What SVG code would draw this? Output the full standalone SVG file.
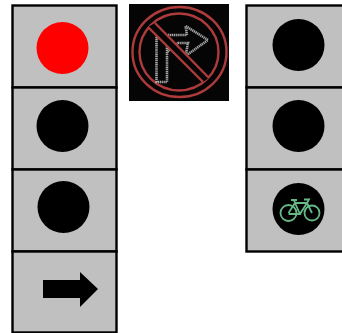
<svg xmlns="http://www.w3.org/2000/svg" width="342" height="333" viewBox="0 0 342 333">
<style>
.h{fill:#c0c0c0;stroke:#000;stroke-width:2.4}
.l{fill:#000}
.red{fill:#f00}
.ring{fill:none;stroke:#ad3b3b;stroke-width:2.4}
.dot{fill:none;stroke:#a6a6a6;stroke-width:2.6;stroke-dasharray:1.3 .6}
.bike{fill:none;stroke:#66b987;stroke-width:1.8}
</style>
<rect width="342" height="333" fill="#fff"/>
<g id="left-1"><rect class="h" x="12.500" y="5.500" width="104" height="82"/><circle class="red" cx="62.500" cy="48" r="26"/></g>
<g id="left-2"><rect class="h" x="12.500" y="87.500" width="104" height="82"/><circle class="l" cx="62.500" cy="126" r="26"/></g>
<g id="left-3"><rect class="h" x="12.500" y="169.500" width="104" height="82"/><circle class="l" cx="63.500" cy="207" r="26"/></g>
<g id="left-4"><rect class="h" x="12.500" y="251.500" width="104" height="81"/><polygon class="l" points="43,280 80,280 80,272 98,289 80,307 80,298 43,298"/></g>
<g id="sign"><rect x="129" y="4" width="100" height="97" fill="#050505"/>
<ellipse class="ring" cx="179.500" cy="52" rx="47" ry="45"/><ellipse class="ring" cx="179" cy="52" rx="39.500" ry="38.500"/>
<path class="dot" d="M156.500 82V38H167V82ZM168 35H187L185.500 26L208 40L185.500 56L188 43H178L167 52"/>
<polygon points="148,27 155,23 209,78 203,82" fill="#050505"/>
<line class="ring" x1="148" y1="27" x2="203" y2="82"/><line class="ring" x1="155" y1="23" x2="209" y2="78"/>
</g>
<g id="right-1"><rect class="h" x="246.500" y="5.500" width="97" height="82"/><circle class="l" cx="298.500" cy="45" r="26"/></g>
<g id="right-2"><rect class="h" x="246.500" y="87.500" width="97" height="82"/><circle class="l" cx="298.500" cy="126" r="26"/></g>
<g id="right-3"><rect class="h" x="246.500" y="169.500" width="97" height="82"/><circle class="l" cx="298.500" cy="209" r="26"/>
<g class="bike"><circle cx="288.500" cy="213" r="8"/><circle cx="312" cy="213" r="7.500"/><path d="M288.500 213L295 203H307L312 213M295 203L300 214H288.500M307 203L300 214M291 200H297M295 203L294 200M304 199.500H309L307 203"/></g></g>
</svg>
